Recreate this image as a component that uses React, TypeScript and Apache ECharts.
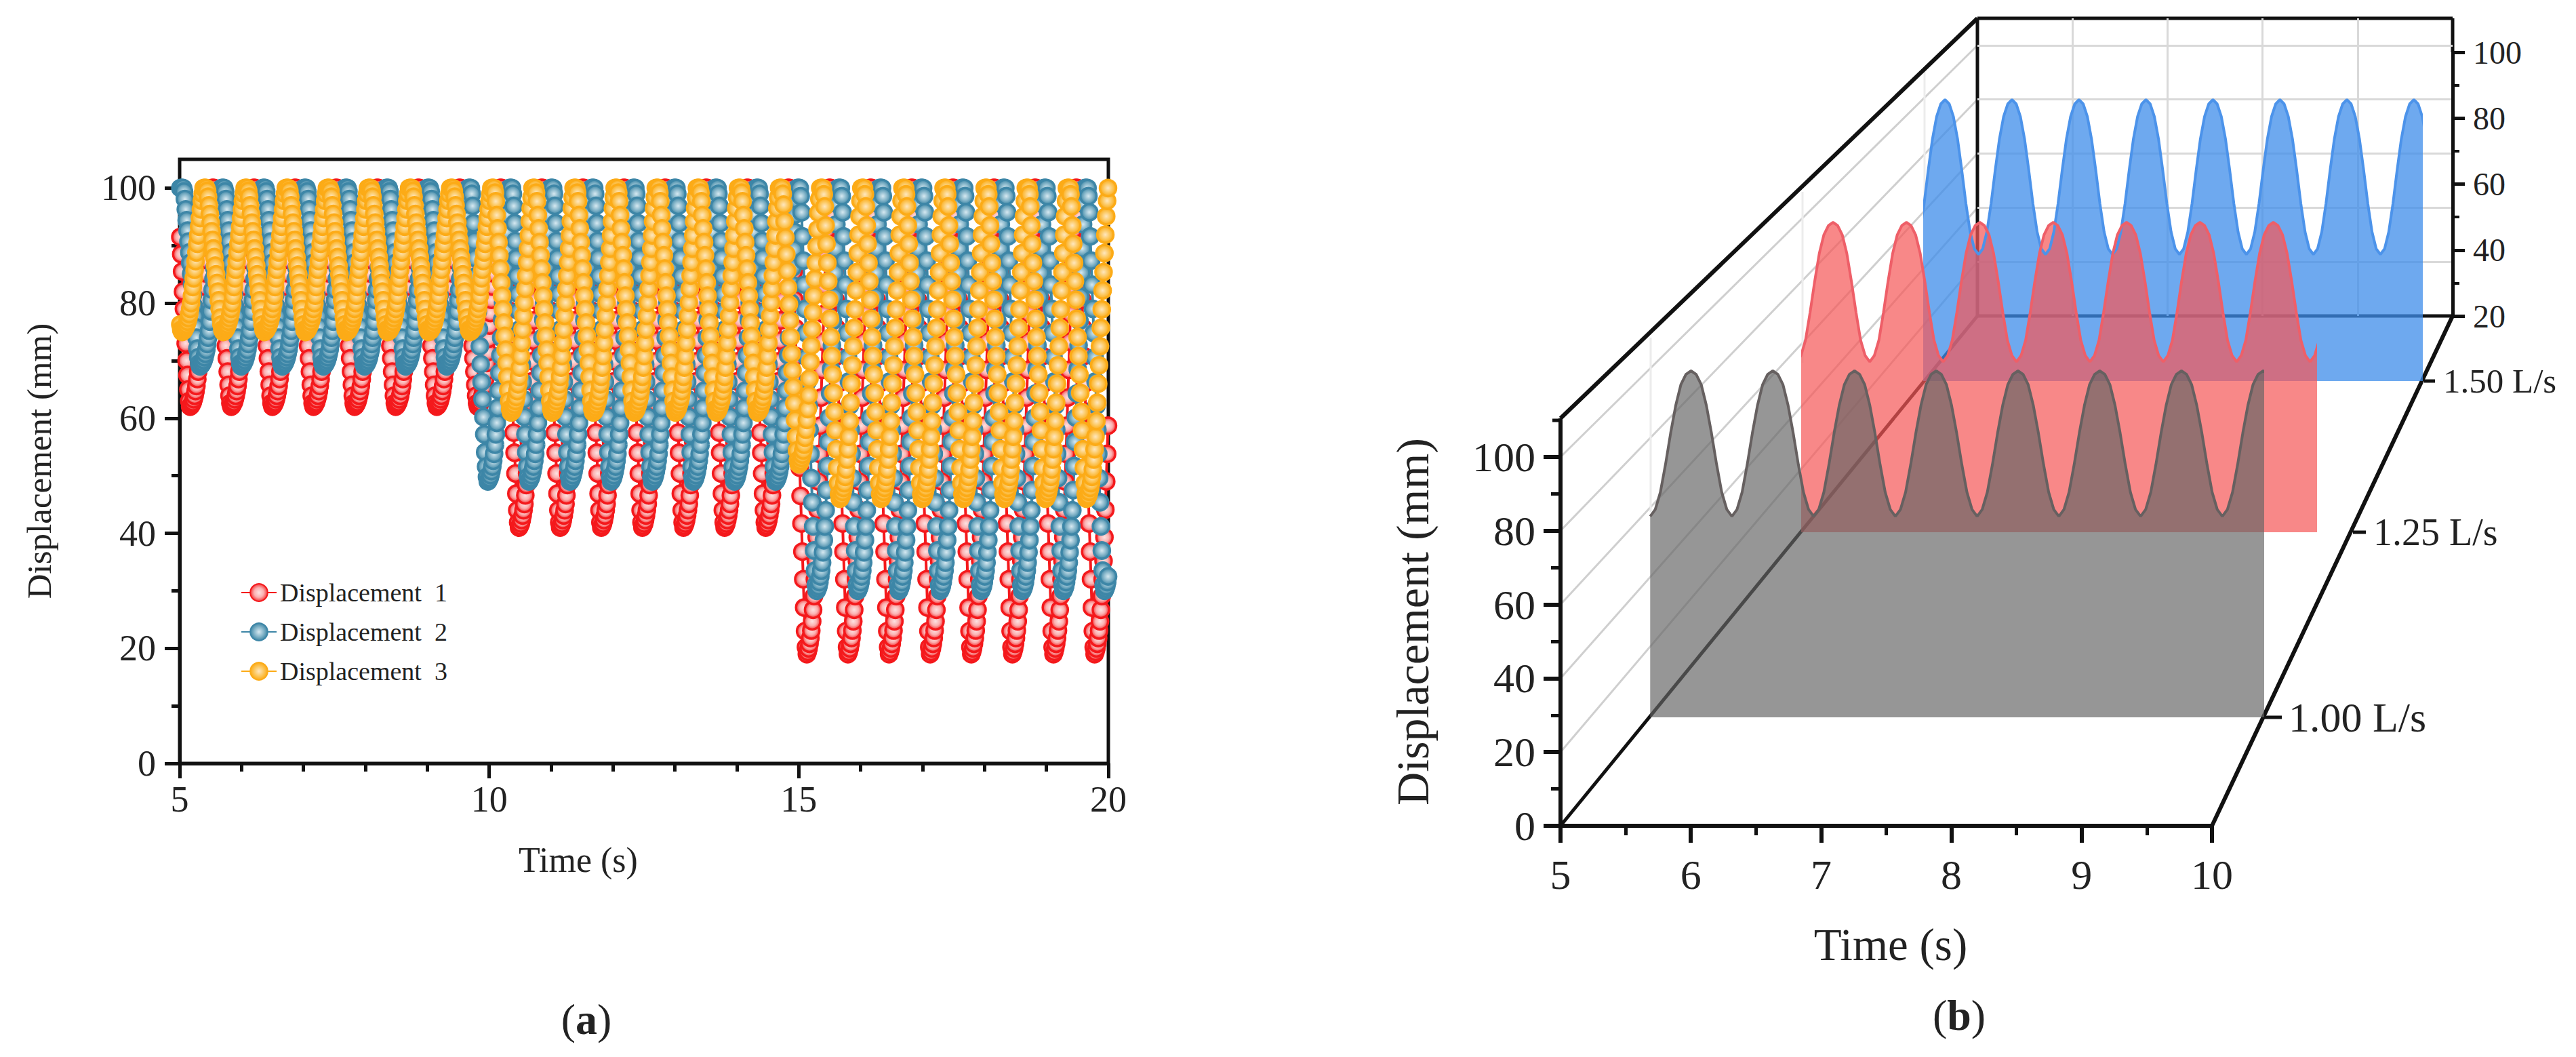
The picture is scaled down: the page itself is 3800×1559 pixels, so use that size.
import React, { useEffect, useRef } from "react";
import * as echarts from "echarts";

// ---------- panel (a): readings of one rise and one fall per trough level ----------
const seriesNames = ["Displacement  1", "Displacement  2", "Displacement  3"];
const PERIOD_A = 0.664;
const STEPS_PER_CYCLE = 46;
const plateau = [100, 100, 100, 100];

const redRise = [
  [62, 62.2, 62.5, 62.8, 63.3, 63.9, 64.7, 65.6, 66.8, 68.1, 69.6, 71.5, 73.8, 76.1, 78.3, 80.6, 82.9, 85.2, 87.5, 89.7, 92, 94.3, 96.6, 98.5],
  [41, 41.3, 41.7, 42.3, 43.1, 44, 45.1, 46.6, 48.4, 50.4, 52.8, 55.8, 59.3, 62.8, 66.4, 69.9, 73.5, 77, 80.5, 84.1, 87.6, 91.2, 94.7, 97.6],
  [19, 19.4, 20, 20.8, 21.8, 23.1, 24.7, 26.7, 29.1, 32, 35.2, 39.3, 44.1, 49, 53.8, 58.7, 63.6, 68.4, 73.3, 78.1, 83, 87.9, 92.7, 96.8],
];
const redFall = [
  [99.2, 97.7, 95.4, 93.2, 90.9, 88.6, 86.3, 84, 81.8, 79.5, 77.2, 74.9, 72.6, 70.4, 68.1, 65.8, 63.9, 62.6],
  [98.8, 96.5, 92.9, 89.4, 85.8, 82.3, 78.8, 75.2, 71.7, 68.1, 64.6, 61.1, 57.5, 54, 50.4, 46.9, 44, 41.9],
  [98.4, 95.1, 90.3, 85.4, 80.6, 75.7, 70.8, 66, 61.1, 56.3, 51.4, 46.5, 41.7, 36.8, 32, 27.1, 23, 20.2],
];
const redFirstFall = [100, 100, 100, 100, 100, 100, 94.5, 91.5, 88.5, 85.5, 82, 79, 76, 73, 70, 67.5, 65, 63];
const blueRise = [
  [69, 69.2, 69.4, 69.7, 70.1, 70.6, 71.2, 71.9, 72.9, 74, 75.2, 76.8, 78.6, 80.5, 82.3, 84.2, 86.1, 87.9, 89.8, 91.6, 93.5, 95.4, 97.2, 98.8],
  [49, 49.3, 49.6, 50.1, 50.8, 51.6, 52.6, 53.8, 55.4, 57.2, 59.2, 61.8, 64.8, 67.9, 70.9, 74, 77.1, 80.1, 83.2, 86.2, 89.3, 92.4, 95.4, 98],
  [30, 30.4, 30.8, 31.5, 32.5, 33.5, 34.9, 36.7, 38.8, 41.2, 44, 47.5, 51.7, 55.9, 60.1, 64.3, 68.5, 72.7, 76.9, 81.1, 85.3, 89.5, 93.7, 97.2],
];
const blueFall = [
  [99.4, 98.1, 96.3, 94.4, 92.6, 90.7, 88.8, 87, 85.1, 83.3, 81.4, 79.5, 77.7, 75.8, 74, 72.1, 70.6, 69.5],
  [99, 96.9, 93.9, 90.8, 87.8, 84.7, 81.6, 78.6, 75.5, 72.5, 69.4, 66.3, 63.3, 60.2, 57.2, 54.1, 51.6, 49.8],
  [98.6, 95.8, 91.6, 87.4, 83.2, 79, 74.8, 70.6, 66.4, 62.2, 58, 53.8, 49.6, 45.4, 41.2, 37, 33.5, 31],
];
const orangeRise = [
  [75, 75.1, 75.3, 75.6, 75.9, 76.3, 76.8, 77.4, 78.1, 79, 80, 81.3, 82.8, 84.3, 85.8, 87.3, 88.8, 90.3, 91.8, 93.3, 94.8, 96.3, 97.8, 99],
  [61, 61.2, 61.5, 61.9, 62.4, 63, 63.7, 64.7, 65.9, 67.2, 68.8, 70.8, 73.1, 75.4, 77.8, 80.1, 82.5, 84.8, 87.1, 89.5, 91.8, 94.2, 96.5, 98.4],
  [52, 52.2, 52.6, 53.1, 53.7, 54.4, 55.4, 56.6, 58, 59.7, 61.6, 64, 66.9, 69.8, 72.6, 75.5, 78.4, 81.3, 84.2, 87, 89.9, 92.8, 95.7, 98.1],
  [46, 46.3, 46.6, 47.2, 47.9, 48.7, 49.8, 51.1, 52.8, 54.6, 56.8, 59.5, 62.7, 66, 69.2, 72.5, 75.7, 78.9, 82.2, 85.4, 88.7, 91.9, 95.1, 97.8],
];
const orangeFall = [
  [99.5, 98.5, 97, 95.5, 94, 92.5, 91, 89.5, 88, 86.5, 85, 83.5, 82, 80.5, 79, 77.5, 76.3, 75.4],
  [99.2, 97.7, 95.3, 93, 90.6, 88.3, 86, 83.6, 81.3, 78.9, 76.6, 74.3, 71.9, 69.6, 67.2, 64.9, 63, 61.6],
  [99, 97.1, 94.2, 91.4, 88.5, 85.6, 82.7, 79.8, 77, 74.1, 71.2, 68.3, 65.4, 62.6, 59.7, 56.8, 54.4, 52.7],
  [98.9, 96.8, 93.5, 90.3, 87, 83.8, 80.6, 77.3, 74.1, 70.8, 67.6, 64.4, 61.1, 57.9, 54.6, 51.4, 48.7, 46.8],
];
// which trough level each successive cycle falls to
const redLevels = [0, 0, 0, 0, 0, 0, 0, 0, 1, 1, 1, 1, 1, 1, 1, 2, 2, 2, 2, 2, 2, 2, 2];
const blueLevels = [0, 0, 0, 0, 0, 0, 0, 1, 1, 1, 1, 1, 1, 1, 1, 2, 2, 2, 2, 2, 2, 2, 2];
const orangeLevels = [0, 0, 0, 0, 0, 0, 0, 0, 1, 1, 1, 1, 1, 1, 1, 2, 3, 3, 3, 3, 3, 3, 3];
const firstTrough = [5.17, 5.33, 5.04];

// ---------- panel (b): one read wave per layer ----------
const flowLabels = ["1.00 L/s", "1.25 L/s", "1.50 L/s"];
const grayCycle = [58, 60, 65, 73, 82, 90, 96, 99, 100, 99, 96, 90, 82, 73, 65, 60];
const redCycle = [55, 57, 62, 71, 81, 90, 96, 99, 100, 99, 96, 90, 81, 71, 62, 57];
const blueCycle = [45, 47, 53, 63, 75, 86, 94, 98.5, 100, 98.5, 94, 86, 75, 63, 53, 47];
const layerPeriod = [0.668, 0.715, 0.674];
const layerStart = [4.996, 4.94, 4.869];

const FONT = "Liberation Serif";
const INK = "#222222";
const AXIS = "#111111";

function cycles(levels: number[], rise: number[][], fall: number[][], trough: number, firstFall?: number[]) {
  const pts: number[][] = [];
  const step = PERIOD_A / STEPS_PER_CYCLE;
  for (let n = -1; n < levels.length; n++) {
    const a = levels[Math.max(n, 0)];
    const b = levels[Math.min(n + 1, levels.length - 1)];
    const down = n === -1 && firstFall ? firstFall : fall[b];
    const vals = [...rise[a], ...plateau, ...down];
    vals.forEach((v, i) => {
      const t = trough + n * PERIOD_A + i * step;
      if (t >= 5 && t <= 20) pts.push([t, v]);
    });
  }
  return pts;
}

function layer(cycle: number[], start: number, period: number) {
  const pts: number[][] = [];
  const step = period / cycle.length;
  for (let n = 0; start + n * period <= 10.5; n++) {
    cycle.forEach((v, i) => pts.push([start + n * period + i * step, v]));
  }
  return pts;
}

const ball = (c0: string, c1: string, c2: string) => ({
  type: "radial",
  x: 0.5,
  y: 0.5,
  r: 0.5,
  colorStops: [
    { offset: 0, color: c0 },
    { offset: 0.55, color: c1 },
    { offset: 1, color: c2 },
  ],
});

function markerSeries(name: string, data: number[][], line: string, fill: any) {
  return {
    type: "line",
    name,
    xAxisIndex: 0,
    yAxisIndex: 0,
    data,
    clip: false,
    showSymbol: true,
    showAllSymbol: true,
    symbol: "circle",
    symbolSize: 24,
    lineStyle: { color: line, width: 4 },
    itemStyle: { color: fill, borderColor: line, borderWidth: 3.5 },
    emphasis: { disabled: true },
  };
}

function areaSeries(name: string, index: number, data: number[][], line: string, fill: string) {
  return {
    type: "line",
    name,
    xAxisIndex: index,
    yAxisIndex: index,
    data,
    showSymbol: false,
    symbol: "none",
    lineStyle: { color: line, width: 4 },
    areaStyle: { color: fill, opacity: 1 },
    emphasis: { disabled: true },
  };
}

const hiddenAxis = (extra: any) => ({
  type: "value",
  show: false,
  splitLine: { show: false },
  ...extra,
});

const seg = (x1: number, y1: number, x2: number, y2: number, stroke: string, lineWidth: number) => ({
  type: "line",
  silent: true,
  shape: { x1, y1, x2, y2 },
  style: { stroke, lineWidth },
});

const label = (text: string, x: number, y: number, fontSize: number, extra: any = {}) => ({
  type: "text",
  silent: true,
  x,
  y,
  style: {
    text,
    fontFamily: FONT,
    fontSize,
    fill: INK,
    textAlign: "center",
    textVerticalAlign: "middle",
    ...extra,
  },
});

function makeOption() {
  const wall = "#cfcfcf";
  const backGrid = { show: true, showMinLine: false, showMaxLine: false, lineStyle: { color: "#d9d9d9", width: 3 } };
  const grids = [
    { left: 265, top: 277.4, width: 1370, height: 848.6 }, // a
    { left: 2302, top: 674, width: 961, height: 544 }, // b front
    { left: 2917, top: 27, width: 701, height: 439 }, // b back grid
    { left: 2917, top: 77, width: 701, height: 389 }, // b back scale
    { left: 2435, top: 547, width: 902.5, height: 511 }, // gray
    { left: 2659, top: 328, width: 757, height: 457 }, // red
    { left: 2839, top: 147, width: 733, height: 415 }, // blue
  ];
  const tickLine = (width: number, length: number) => ({ show: true, length, lineStyle: { color: AXIS, width } });
  const xAxis: any[] = [
    {
      type: "value", gridIndex: 0, min: 5, max: 20, interval: 5,
      axisLine: { show: true, onZero: false, lineStyle: { color: AXIS, width: 5 } },
      axisTick: tickLine(5, 22),
      minorTick: { show: true, splitNumber: 5, length: 12, lineStyle: { color: AXIS, width: 5 } },
      splitLine: { show: false },
      axisLabel: { margin: 26, fontFamily: FONT, fontSize: 54, color: INK },
    },
    {
      type: "value", gridIndex: 1, min: 5, max: 10, interval: 1,
      axisLine: { show: true, onZero: false, lineStyle: { color: AXIS, width: 6 } },
      axisTick: tickLine(6, 25),
      minorTick: { show: true, splitNumber: 2, length: 14, lineStyle: { color: AXIS, width: 5 } },
      splitLine: { show: false },
      axisLabel: { margin: 41, fontFamily: FONT, fontSize: 62, color: INK },
    },
    {
      type: "value", gridIndex: 2, min: 5, max: 10, interval: 1, position: "bottom",
      axisLine: { show: false }, axisTick: { show: false }, axisLabel: { show: false },
      splitLine: backGrid,
    },
    hiddenAxis({ gridIndex: 3, min: 5, max: 10 }),
    hiddenAxis({ gridIndex: 4, min: 5, max: 10 }),
    hiddenAxis({ gridIndex: 5, min: 5, max: 10 }),
    hiddenAxis({ gridIndex: 6, min: 5, max: 10 }),
  ];
  const yAxis: any[] = [
    {
      type: "value", gridIndex: 0, min: 0, max: 100, interval: 20,
      axisLine: { show: true, onZero: false, lineStyle: { color: AXIS, width: 5 } },
      axisTick: tickLine(5, 22),
      minorTick: { show: true, splitNumber: 2, length: 12, lineStyle: { color: AXIS, width: 5 } },
      splitLine: { show: false },
      axisLabel: { margin: 35, fontFamily: FONT, fontSize: 54, color: INK },
    },
    {
      type: "value", gridIndex: 1, min: 0, max: 100, interval: 20,
      axisLine: { show: true, onZero: false, lineStyle: { color: AXIS, width: 6 } },
      axisTick: tickLine(6, 25),
      minorTick: { show: true, splitNumber: 2, length: 14, lineStyle: { color: AXIS, width: 5 } },
      splitLine: { show: false },
      axisLabel: { margin: 37, fontFamily: FONT, fontSize: 62, color: INK },
    },
    {
      type: "value", gridIndex: 2, min: 0, max: 110, interval: 20,
      axisLine: { show: false }, axisTick: { show: false }, axisLabel: { show: false },
      splitLine: backGrid,
    },
    {
      type: "value", gridIndex: 3, min: 20, max: 100, interval: 20, position: "right",
      axisLine: { show: true, onZero: false, lineStyle: { color: AXIS, width: 5 } },
      axisTick: tickLine(5, 18),
      minorTick: { show: true, splitNumber: 2, length: 10, lineStyle: { color: AXIS, width: 4 } },
      splitLine: { show: false },
      axisLabel: { margin: 30, fontFamily: FONT, fontSize: 48, color: INK },
    },
    hiddenAxis({ gridIndex: 4, min: 0, max: 100 }),
    hiddenAxis({ gridIndex: 5, min: 0, max: 100 }),
    hiddenAxis({ gridIndex: 6, min: 0, max: 100 }),
  ];

  const frontLevels = [20, 40, 60, 80, 100];
  const graphicEls: any[] = [
    { type: "rect", silent: true, shape: { x: 265, y: 235, width: 1370, height: 891 }, style: { fill: "transparent", stroke: AXIS, lineWidth: 5 } },
    // side wall of panel (b)
    ...frontLevels.map((v) => seg(2302, 1218 - v * 5.44, 2917, 466 - v * 3.99, wall, 3)),
    seg(2435, 498, 2435, 755, "#ececec", 3),
    seg(2659, 283, 2659, 535, "#ececec", 3),
    seg(2839, 103, 2839, 310, "#ececec", 3),
    // frame of panel (b)
    seg(2302, 617, 2917, 27, AXIS, 6),
    seg(2302, 674, 2302, 617, AXIS, 6),
    seg(2290, 620, 2302, 620, AXIS, 5),
    seg(2302, 1218, 2917, 466, AXIS, 5),
    seg(3263, 1218, 3618, 466, AXIS, 6),
    seg(2917, 27, 2917, 466, AXIS, 5),
    seg(2917, 27, 3618, 27, AXIS, 5),
    seg(3618, 27, 3618, 77, AXIS, 5),
    seg(2917, 466, 3618, 466, AXIS, 5),
    // flow axis
    seg(3338, 1058, 3366, 1058, AXIS, 5),
    seg(3471, 785, 3490, 785, AXIS, 5),
    seg(3576, 562, 3592, 562, AXIS, 5),
    label(flowLabels[0], 3376, 1058, 62, { textAlign: "left" }),
    label(flowLabels[1], 3501, 785, 56, { textAlign: "left" }),
    label(flowLabels[2], 3604, 562, 51, { textAlign: "left" }),
    // axis titles and captions
    label("Displacement (mm)", 58, 680, 51, { }),
    label("Time (s)", 853, 1268, 52),
    label("Displacement (mm)", 2084, 917, 68),
    label("Time (s)", 2789, 1393, 67),
    {
      type: "text", silent: true, x: 865, y: 1503,
      style: {
        text: "({b|a})", rich: { b: { fontWeight: "bold", fontFamily: FONT, fontSize: 64, fill: INK } },
        fontFamily: FONT, fontSize: 64, fill: INK, textAlign: "center", textVerticalAlign: "middle",
      },
    },
    {
      type: "text", silent: true, x: 2890, y: 1497,
      style: {
        text: "({b|b})", rich: { b: { fontWeight: "bold", fontFamily: FONT, fontSize: 64, fill: INK } },
        fontFamily: FONT, fontSize: 64, fill: INK, textAlign: "center", textVerticalAlign: "middle",
      },
    },
  ];
  graphicEls.filter((e) => e.style && e.style.text === "Displacement (mm)").forEach((e) => { e.rotation = Math.PI / 2; });

  return {
    animation: false,
    backgroundColor: "#ffffff",
    grid: grids,
    xAxis,
    yAxis,
    legend: {
      show: true,
      data: seriesNames,
      orient: "vertical",
      left: 350,
      top: 850,
      itemWidth: 52,
      itemHeight: 32,
      itemGap: 20,
      selectedMode: false,
      textStyle: { fontFamily: FONT, fontSize: 38, color: INK },
    },
    graphic: { elements: graphicEls },
    series: [
      markerSeries(seriesNames[0], cycles(redLevels, redRise, redFall, firstTrough[0], redFirstFall), "#f4191c", ball("#fde2e2", "#fbb0b0", "#f4393b")),
      markerSeries(seriesNames[1], cycles(blueLevels, blueRise, blueFall, firstTrough[1]), "#3d86a7", ball("#d6e9f1", "#86b6ca", "#3f87a6")),
      markerSeries(seriesNames[2], cycles(orangeLevels, orangeRise, orangeFall, firstTrough[2]), "#fcab17", ball("#fee7bf", "#fcc860", "#fcab17")),
      areaSeries(flowLabels[2], 6, layer(blueCycle, layerStart[2], layerPeriod[2]), "#4c93ea", "rgba(61,140,234,0.75)"),
      areaSeries(flowLabels[1], 5, layer(redCycle, layerStart[1], layerPeriod[1]), "#ee5f68", "rgba(245,88,88,0.71)"),
      areaSeries(flowLabels[0], 4, layer(grayCycle, layerStart[0], layerPeriod[0]), "#666060", "rgba(100,100,100,0.68)"),
    ],
  };
}

export default function App() {
  const ref = useRef<HTMLDivElement>(null);
  useEffect(() => {
    const chart = echarts.init(ref.current as HTMLDivElement, undefined, { renderer: "svg" });
    chart.setOption(makeOption() as any);
    return () => chart.dispose();
  }, []);
  return <div ref={ref} style={{ position: "absolute", left: 0, top: 0, width: 3800, height: 1559 }} />;
}
